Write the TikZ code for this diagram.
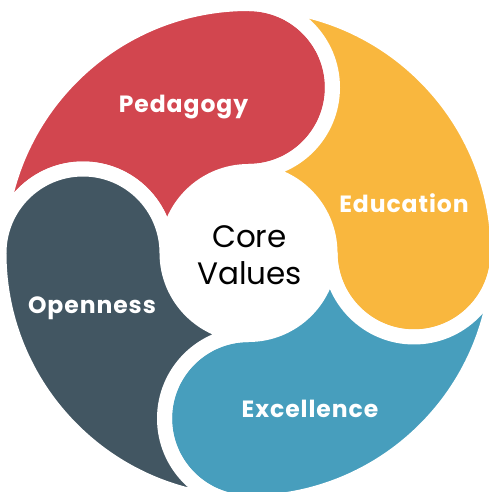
\documentclass[tikz,border=0pt]{standalone}
\usepackage{fontspec}
\setmainfont{Poppins}
\newfontfamily\lblfont{Poppins}[LetterSpace=4]
\usetikzlibrary{positioning}
\definecolor{pedred}{HTML}{D2464F}
\definecolor{eduyel}{HTML}{F9B73E}
\definecolor{excblue}{HTML}{479EBD}
\definecolor{opnslate}{HTML}{425662}

\begin{document}
\begin{tikzpicture}[x=1pt,y=1pt,
  seg/.style={draw=white,line width=15pt,line join=round},
  lbl/.style={text=white,anchor=base,font=\lblfont\bfseries\fontsize{23.5}{27}\selectfont},
  core/.style={text=black,align=center,font=\fontsize{31}{37}\selectfont}]
  \useasboundingbox (-248.5,-239) rectangle (240.5,253);
  \foreach \ang/\col in {0/pedred,-90/eduyel,-180/excblue,90/opnslate}
    \path[seg,fill=\col,rotate=\ang] (0,249.5) arc (90:180:249.5) arc (180:0:84)
      arc (180:90:81.5) arc (270:450:84) -- cycle;

  \node[lbl] (p1) at (-65,140) {Pedagogy};
  \node[lbl] (e1) at (155.5,40) {Education};
  \node[lbl] (o1) at (-156.5,-60) {Openness};
  \node[lbl] (x1) at (61.5,-164) {Excellence};
  \node[core] (cv) at (1,-2) {Core\\Values};
\end{tikzpicture}
\end{document}
